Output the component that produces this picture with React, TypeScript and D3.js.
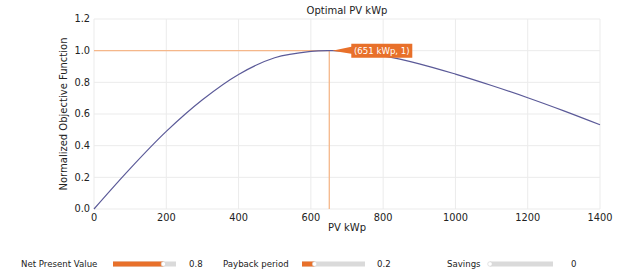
import * as d3 from "d3";

// curve
const pvKwp = [0, 100, 200, 300, 400, 500, 600, 651, 700, 800, 900, 1000, 1100, 1200, 1300, 1400];
const objective = [0, 0.255, 0.49, 0.69, 0.85, 0.955, 0.995, 1, 0.997, 0.967, 0.917, 0.852, 0.78, 0.703, 0.62, 0.532];
const xTicks = [0, 200, 400, 600, 800, 1000, 1200, 1400];
const yTicks = [0, 0.2, 0.4, 0.6, 0.8, 1.0, 1.2];
const optimum = { x: 651, y: 1 };

const sliderLabels = ["Net Present Value", "Payback period", "Savings"];
const sliderValues = [0.8, 0.2, 0];

const FONT = "DejaVu Sans, sans-serif";
const ORANGE = "#e8702a";

export default function App() {
  const width = 631;
  const height = 270;
  const margin = { top: 19, left: 94, right: 31, bottom: 61 };
  const innerW = width - margin.left - margin.right;
  const innerH = height - margin.top - margin.bottom;

  const x = d3.scaleLinear().domain([0, 1400]).range([0, innerW]);
  const y = d3.scaleLinear().domain([0, 1.2]).range([innerH, 0]);

  const line = d3
    .line<number>()
    .x((d, i) => x(pvKwp[i]))
    .y((d) => y(d))
    .curve(d3.curveCatmullRom.alpha(0.5));

  const px = x(optimum.x);
  const py = y(optimum.y);

  // slider layout
  const sliders = [
    { textX: 21, trackX: 113, valueX: 189 },
    { textX: 223, trackX: 302, valueX: 377 },
    { textX: 447, trackX: 490, valueX: 571 },
  ];
  const trackW = 63;
  const sy = 264;

  return (
    <svg
      width={width}
      height={height}
      style={{ position: "absolute", left: 0, top: 0, fontFamily: FONT }}
    >
      <text x={margin.left + innerW / 2} y={14} textAnchor="middle" fontSize={10} fill="#222">
        Optimal PV kWp
      </text>
      <g transform={`translate(${margin.left},${margin.top})`}>
        {xTicks.map((t) => (
          <line key={"gx" + t} x1={x(t)} x2={x(t)} y1={0} y2={innerH} stroke="#ebebeb" />
        ))}
        {yTicks.map((t) => (
          <line key={"gy" + t} x1={0} x2={innerW} y1={y(t)} y2={y(t)} stroke="#ebebeb" />
        ))}
        {xTicks.map((t) => (
          <text key={"tx" + t} x={x(t)} y={innerH + 12} textAnchor="middle" fontSize={9.8} fill="#222">
            {t}
          </text>
        ))}
        {yTicks.map((t) => (
          <text key={"ty" + t} x={-4} y={y(t)} dy="0.35em" textAnchor="end" fontSize={9.8} fill="#222">
            {t.toFixed(1)}
          </text>
        ))}
        <line x1={0} x2={px} y1={py} y2={py} stroke="#f5b78a" strokeWidth={1.3} />
        <line x1={px} x2={px} y1={py} y2={innerH} stroke="#f5b78a" strokeWidth={1.3} />
        <path d={line(objective) ?? ""} fill="none" stroke="#5b5a98" strokeWidth={1.2} />
        <g transform={`translate(${px},${py})`}>
          <path d="M3,0 L22,-4 L22,-7 H83 V7 H22 V3 Z" fill={ORANGE} />
          <text x={52.5} y={0} dy="0.35em" textAnchor="middle" fontSize={8.6} fill="#fff">
            (651 kWp, 1)
          </text>
        </g>
        <text x={innerW / 2} y={innerH + 22} textAnchor="middle" fontSize={10} fill="#222">
          PV kWp
        </text>
        <text
          transform={`translate(${-27},${innerH / 2}) rotate(-90)`}
          textAnchor="middle"
          fontSize={10}
          fill="#222"
        >
          Normalized Objective Function
        </text>
      </g>
      {sliderLabels.map((lab, i) => {
        const s = sliders[i];
        const fillW = sliderValues[i] * trackW;
        return (
          <g key={lab}>
            <text x={s.textX} y={sy} dy="0.35em" fontSize={8.6} fill="#222">
              {lab}
            </text>
            <rect x={s.trackX} y={sy - 2.5} width={trackW} height={5} fill="#dadada" />
            <rect x={s.trackX} y={sy - 2.5} width={fillW} height={5} fill={ORANGE} />
            <circle cx={s.trackX + fillW} cy={sy} r={2.3} fill="#fff" stroke="#d0d0d0" strokeWidth={0.6} />
            <text x={s.valueX} y={sy} dy="0.35em" fontSize={8.6} fill="#222">
              {sliderValues[i]}
            </text>
          </g>
        );
      })}
    </svg>
  );
}
